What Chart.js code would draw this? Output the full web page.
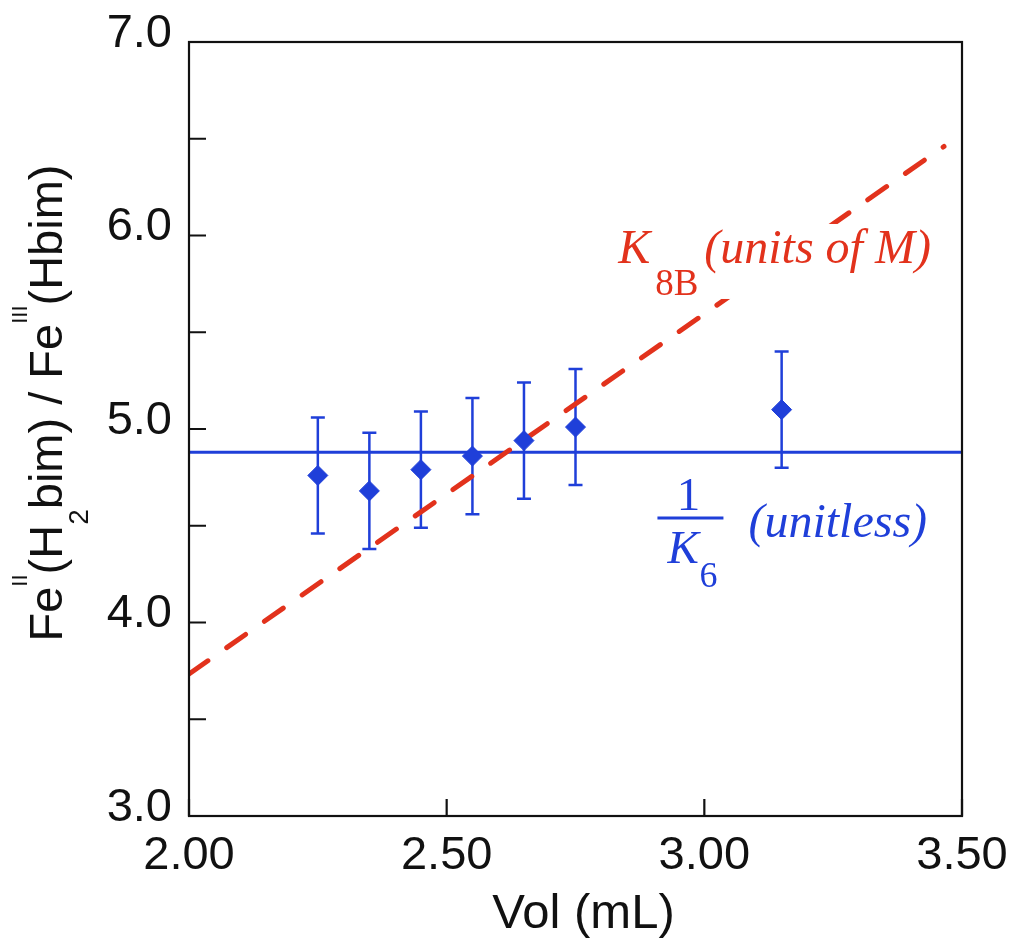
<!DOCTYPE html>
<html>
<head>
<meta charset="utf-8">
<script src="https://cdn.jsdelivr.net/npm/chart.js@4/dist/chart.umd.min.js"></script>
<style>
  body { margin: 0; background: #fff; }
  #wrap { width: 1011px; height: 940px; }
</style>
</head>
<body>
<div id="wrap"><canvas id="chart_one" width="1011" height="940"></canvas></div>
<script>

// measured points
var volumes = [2.25, 2.35, 2.45, 2.55, 2.65, 2.75, 3.15];
var ratios = [4.76, 4.68, 4.79, 4.86, 4.94, 5.01, 5.10];
var ratio_errors = [0.30, 0.30, 0.30, 0.30, 0.30, 0.30, 0.30];

// fit lines
var k6_x = [2.00, 3.50];
var k6_y = [4.88, 4.88];
var k8b_x = [2.00, 3.465];
var k8b_y = [3.734, 6.46];

var x_ticks = [2.00, 2.50, 3.00, 3.50];
var y_major = [3.0, 4.0, 5.0, 6.0, 7.0];

var blue = '#1f3fd9';
var red = '#e2321c';
var sans = '"Liberation Sans", Arial, sans-serif';
var serif = '"Liberation Serif", "Times New Roman", serif';

function to_points(xs, ys){
    return xs.map(function (x, i) { return {x: x, y: ys[i]}; });
}

// frame + inward ticks + error bars
var frame_plugin = {
    id: 'frame',
    beforeDatasetsDraw: function(chart){
        var ctx = chart.ctx;
        var xs = chart.scales.x, ys = chart.scales.y;
        ctx.save();
        ctx.strokeStyle = blue;
        ctx.lineWidth = 2.5;
        volumes.forEach(function (v, i) {
            var px = xs.getPixelForValue(v);
            var top = ys.getPixelForValue(ratios[i] + ratio_errors[i]);
            var bot = ys.getPixelForValue(ratios[i] - ratio_errors[i]);
            ctx.beginPath();
            ctx.moveTo(px, top); ctx.lineTo(px, bot);
            ctx.moveTo(px - 7, top); ctx.lineTo(px + 7, top);
            ctx.moveTo(px - 7, bot); ctx.lineTo(px + 7, bot);
            ctx.stroke();
        });
        ctx.restore();
    },
    afterDraw: function(chart){
        var ctx = chart.ctx;
        var a = chart.chartArea;
        var xs = chart.scales.x, ys = chart.scales.y;
        ctx.save();
        ctx.strokeStyle = '#111';
        ctx.lineWidth = 2.2;
        ctx.strokeRect(a.left, a.top, a.right - a.left, a.bottom - a.top);
        ctx.beginPath();
        ys.ticks.forEach(function (t) {
            var py = ys.getPixelForValue(t.value);
            ctx.moveTo(a.left, py); ctx.lineTo(a.left + 17, py);
        });
        xs.ticks.forEach(function (t) {
            var px = xs.getPixelForValue(t.value);
            ctx.moveTo(px, a.bottom); ctx.lineTo(px, a.bottom - 17);
        });
        ctx.stroke();
        ctx.restore();
    }
};

// draws a run of [text, font, dy] pieces starting at x
function draw_run(ctx, parts, x, y){
    parts.forEach(function (p) {
        ctx.font = p[1];
        ctx.fillText(p[0], x, y + p[2]);
        x += ctx.measureText(p[0]).width;
    });
}

function run_width(ctx, parts){
    var w = 0;
    parts.forEach(function (p) { ctx.font = p[1]; w += ctx.measureText(p[0]).width; });
    return w;
}

var label_plugin = {
    id: 'labels',
    afterDraw: function(chart){
        var ctx = chart.ctx;
        var a = chart.chartArea;
        var xs = chart.scales.x, ys = chart.scales.y;
        var big = '47px ' + sans;
        var small = '22px ' + sans;
        var sub = '28px ' + sans;
        ctx.save();
        ctx.fillStyle = '#111';
        ctx.textBaseline = 'alphabetic';
        ctx.textAlign = 'left';

        // x title
        ctx.font = '49px ' + sans;
        var xt = 'Vol (mL)';
        ctx.fillText(xt, (a.left + a.right) / 2 - ctx.measureText(xt).width / 2 + 8, 928);

        // y title, rotated
        var parts = [
            ['Fe', big, 0], ['II', small, -35], ['(H', big, 0], ['2', sub, 26],
            ['bim) / Fe', big, 0], ['III', small, -35], ['(Hbim)', big, 0]
        ];
        var w = run_width(ctx, parts);
        ctx.translate(62, (a.top + a.bottom) / 2 - 26);
        ctx.rotate(-Math.PI / 2);
        draw_run(ctx, parts, -w / 2, 0);
        ctx.restore();

        // K8B label (red), white box knocks out the dashed line behind it
        ctx.save();
        var rx = xs.getPixelForValue(2.833), ry = ys.getPixelForValue(5.858);
        ctx.fillStyle = '#fff';
        ctx.fillRect(rx + 80, ry - 39, 236, 75);
        ctx.fillStyle = red;
        ctx.textBaseline = 'alphabetic';
        ctx.font = 'italic 48px ' + serif;
        ctx.fillText('K', rx, ry);
        ctx.font = '37px ' + serif;
        ctx.fillText('8B', rx + 37, ry + 32);
        ctx.font = 'italic 48px ' + serif;
        ctx.fillText('(units of M)', rx + 86, ry);
        ctx.restore();

        // 1/K6 label (blue)
        ctx.save();
        ctx.fillStyle = blue;
        ctx.strokeStyle = blue;
        ctx.textBaseline = 'alphabetic';
        var bx = xs.getPixelForValue(2.909), by = ys.getPixelForValue(4.54);
        ctx.lineWidth = 3;
        ctx.beginPath();
        ctx.moveTo(bx, by); ctx.lineTo(bx + 66, by);
        ctx.stroke();
        ctx.font = '47px ' + serif;
        ctx.textAlign = 'center';
        ctx.fillText('1', bx + 31, by - 8);
        ctx.textAlign = 'left';
        ctx.font = 'italic 47px ' + serif;
        ctx.fillText('K', bx + 10, by + 45);
        ctx.font = '36px ' + serif;
        ctx.fillText('6', bx + 42, by + 69);
        ctx.font = 'italic 48px ' + serif;
        ctx.fillText('(unitless)', bx + 91, by + 19);
        ctx.restore();
    }
};

var ctx = document.getElementById('chart_one').getContext('2d');

var chart = new Chart(ctx, {
    type: 'scatter',
    data: {
        datasets: [{
            label: 'data',
            data: to_points(volumes, ratios),
            pointStyle: 'rectRot',
            pointRadius: 10,
            backgroundColor: blue,
            borderColor: blue,
            borderWidth: 1,
            order: 0
        }, {
            type: 'line',
            label: 'K8B',
            data: to_points(k8b_x, k8b_y),
            borderColor: red,
            borderWidth: 5,
            borderDash: [23, 23],
            borderCapStyle: 'round',
            pointRadius: 0,
            fill: false,
            order: 1
        }, {
            type: 'line',
            label: '1/K6',
            data: to_points(k6_x, k6_y),
            borderColor: blue,
            borderWidth: 3,
            pointRadius: 0,
            fill: false,
            order: 2
        }]
    },
    options: {
        responsive: false,
        animation: false,
        layout: { padding: { left: 0, top: 42, right: 49, bottom: 0 } },
        plugins: { legend: { display: false }, tooltip: { enabled: false } },
        scales: {
            x: {
                type: 'linear',
                min: 2.0,
                max: 3.5,
                afterFit: function (s) { s.height = 124; s.paddingLeft = 0; s.paddingRight = 0; },
                afterBuildTicks: function (s) { s.ticks = x_ticks.map(function (v) { return {value: v}; }); },
                grid: { display: false },
                border: { display: false },
                ticks: {
                    padding: 4,
                    color: '#111',
                    font: { family: sans, size: 47 },
                    callback: function (v) { return v.toFixed(2); }
                }
            },
            y: {
                type: 'linear',
                min: 3.0,
                max: 7.0,
                afterFit: function (s) { s.width = 189; s.paddingTop = 0; s.paddingBottom = 0; },
                grid: { display: false },
                border: { display: false },
                ticks: {
                    stepSize: 0.5,
                    padding: 9,
                    labelOffset: -8,
                    color: '#111',
                    font: { family: sans, size: 47 },
                    callback: function (v) { return y_major.indexOf(v) >= 0 ? v.toFixed(1) : ''; }
                }
            }
        }
    },
    plugins: [frame_plugin, label_plugin]
});

</script>
</body>
</html>
